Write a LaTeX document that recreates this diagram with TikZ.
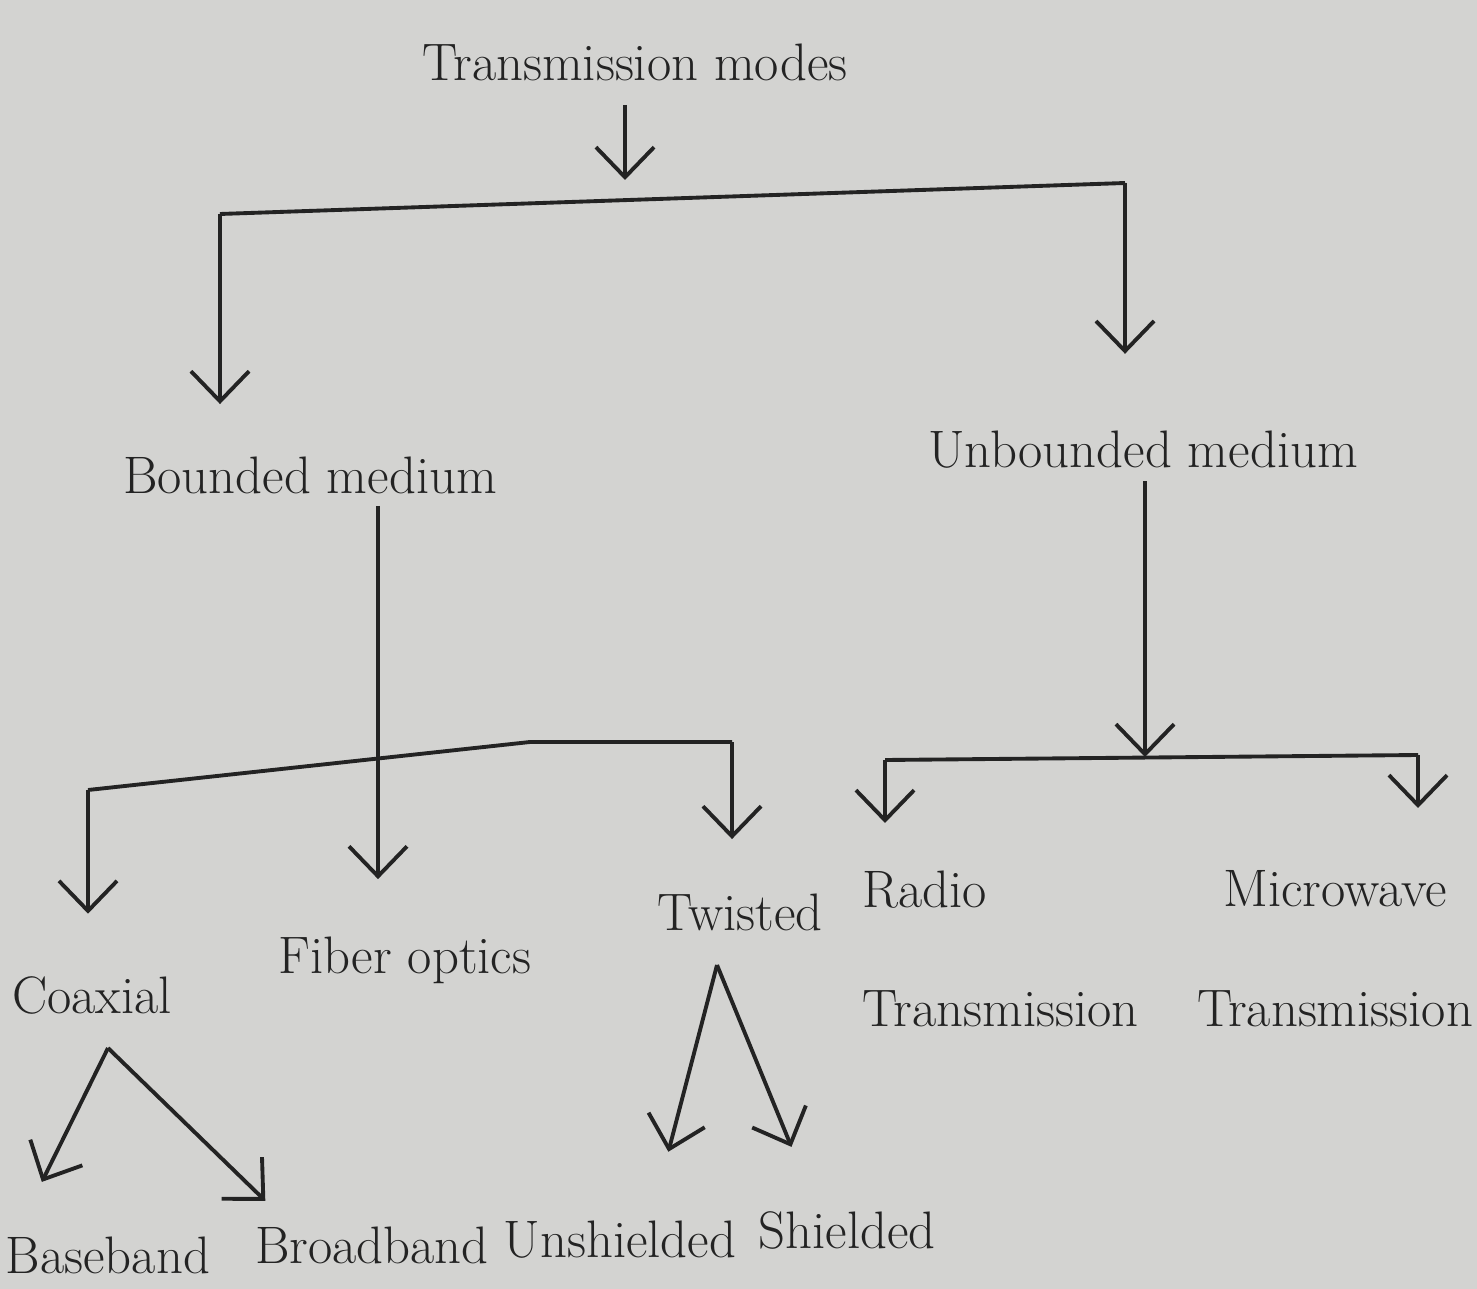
\documentclass[tikz,border=0pt]{standalone}
\usepackage{tikz}
\usetikzlibrary{arrows.meta, positioning, calc}
\definecolor{paper}{RGB}{211,211,209}
\definecolor{ink}{RGB}{35,35,35}
\tikzset{
x=0.01cm, y=-0.01cm, % one unit is one pixel of the sheet
every node/.style={font=\fontsize{15}{34}\selectfont, text=ink}, % labels
line/.style={draw=ink, line width=1.1pt}, % plain strokes
arr/.style={line, -{Straight Barb[length=0.3cm, width=0.58cm]}}, % open arrow heads
}
\begin{document}
\begin{tikzpicture}
\fill[paper] (0,0) rectangle (1477,1289);
\useasboundingbox (0,0) rectangle (1477,1289);

% labels
\node (modes) at (635,62) {Transmission modes};
\node (bounded) at (310,475) {Bounded medium};
\node (unbounded) at (1143,450) {Unbounded medium};
\node (coax) at (92,995) {Coaxial};
\node (fiber) at (405,960) {Fiber optics};
\node (twisted) at (740,912) {Twisted};
\node[align=left, anchor=north west] (radio) at (850,858) {Radio\\Transmission};
\node[align=center, anchor=north] (micro) at (1335,858) {Microwave\\Transmission};
\node (base) at (108,1255) {Baseband};
\node (broad) at (372,1245) {Broadband};
\node (unsh) at (620,1240) {Unshielded};
\node (shield) at (847,1230) {Shielded};

% first split
\coordinate (tm) at (625,180);
\coordinate (tl) at (220,214);
\coordinate (tr) at (1125,183);
\draw[arr, shorten <=0.12cm] (modes.south -| tm) -- (tm);
\draw[line] (tl) -- (tr);
\draw[arr, shorten >=0.4cm] (tl) -- (tl |- bounded.north);
\draw[arr, shorten >=0.65cm] (tr) -- (tr |- unbounded.north);

% bounded medium
\coordinate (fx) at (378,0);
\coordinate (bl) at (88,790);
\coordinate (bm) at (530,742);
\coordinate (br) at (732,742);
\draw[line] (bl) -- (bm) -- (br);
\draw[arr, shorten >=0.45cm] (bounded.south -| fx) -- (fx |- fiber.north);
\draw[arr, shorten >=0.5cm] (bl) -- (bl |- coax.north);
\draw[arr, shorten >=0.42cm] (br) -- (br |- twisted.north);

% unbounded medium
\coordinate (ux) at (1145,0);
\coordinate (uj) at (1145,757);
\coordinate (ul) at (885,760);
\coordinate (ur) at (1418,755);
\draw[arr] (unbounded.south -| ux) -- (uj);
\draw[line] (ul) -- (ur);
\draw[arr, shorten >=0.35cm] (ul) -- (ul |- radio.north);
\draw[arr, shorten >=0.5cm] (ur) -- (ur |- micro.north);

% coaxial kinds
\coordinate (capex) at (108,1048);
\draw[arr, shorten >=0.47cm] (capex) -- ($(base.north west)!0.12!(base.north east)$);
\draw[arr, shorten >=0.19cm] (capex) -- ($(broad.north west)!0.14!(broad.north east)$);

% twisted kinds
\coordinate (tapex) at (717,965);
\draw[arr, shorten >=0.59cm] (tapex) -- ($(unsh.north west)!0.63!(unsh.north east)$);
\draw[arr, shorten >=0.56cm] (tapex) -- ($(shield.north west)!0.33!(shield.north east)$);
\end{tikzpicture}
\end{document}
